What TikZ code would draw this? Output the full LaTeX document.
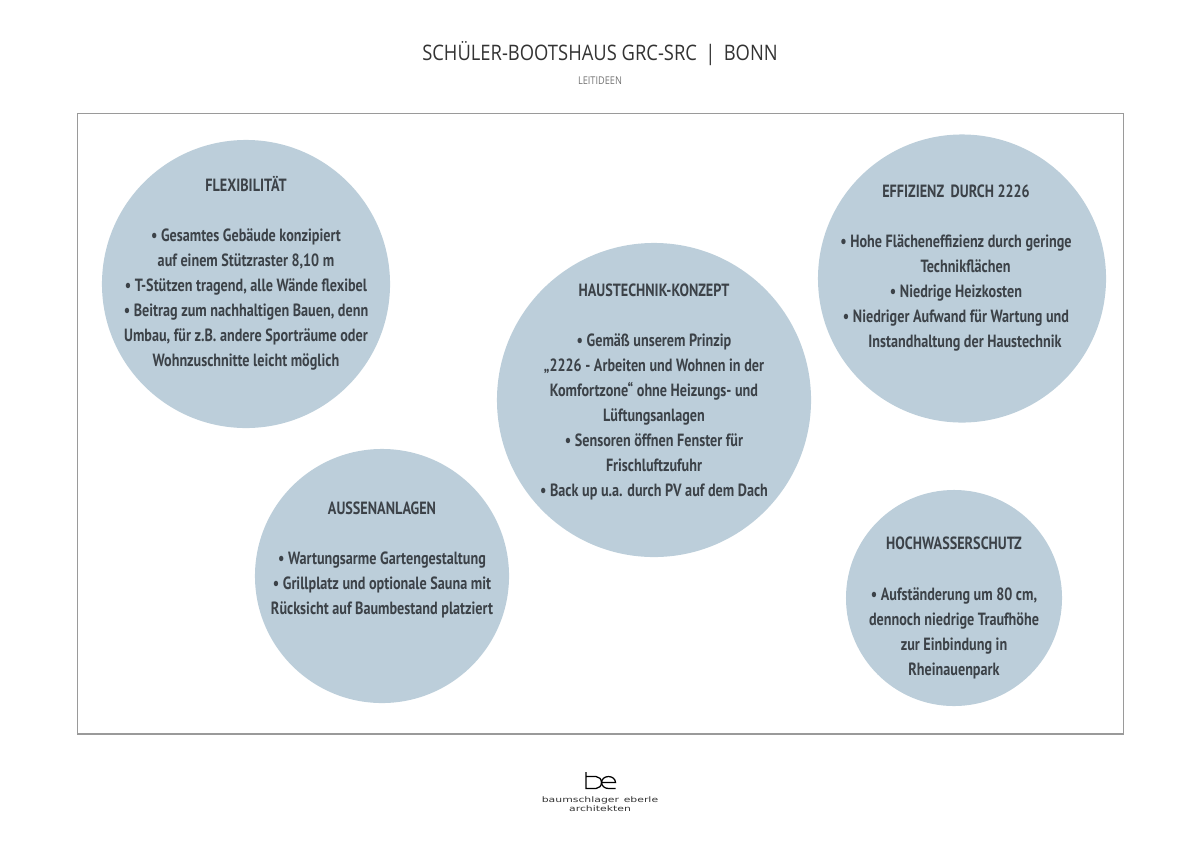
\documentclass[tikz,border=0pt]{standalone}
\usepackage{fontspec}
\setmainfont[FakeStretch=0.86]{Open Sans}
\newfontfamily\circlefont[FakeStretch=0.80,BoldFont={PT Sans Bold}]{PT Sans}
\newfontfamily\logofont[FakeStretch=1.43]{DejaVu Sans}
\usetikzlibrary{positioning}
\definecolor{CCircle}{HTML}{BCCEDA}
\definecolor{CText}{HTML}{3C4248}
\definecolor{CTitle}{HTML}{333333}
\definecolor{CFrame}{HTML}{9A9A9A}
\tikzset{
    ideacircle/.style={
        circle,
        fill=CCircle,
        inner sep=0pt
    },
    ideatext/.style={
        align=center,
        inner sep=0pt,
        text=CText,
        font=\circlefont\bfseries\fontsize{12.6}{17.8}\selectfont
    }
}

\begin{document}
\begin{tikzpicture}[x=0.025cm, y=-0.025cm]
    \useasboundingbox (0,0) rectangle (1200,848);

    % Heading
    \node[text=CTitle, font=\fontsize{15.2}{17}\selectfont, inner sep=0pt] (title) at (600,54) {SCHÜLER-BOOTSHAUS GRC-SRC \,|\, BONN};
    \node[text=black!55, font=\fontsize{7.6}{8}\selectfont, inner sep=0pt] (subtitle) at (600,81) {LEITIDEEN};

    % Frame
    \draw[CFrame, line width=0.8pt] (77.5,113.5) rectangle (1123.5,734);

    % Circles
    \node[ideacircle, minimum size=7.2cm] (flex) at (246,284) {};
    \node[ideacircle, minimum size=7.2cm] (effizienz) at (962,278.5) {};
    \node[ideacircle, minimum size=7.85cm] (haustechnik) at (654,400) {};
    \node[ideacircle, minimum size=6.35cm] (aussen) at (382,576) {};
    \node[ideacircle, minimum size=5.4cm] (hochwasser) at (954,598) {};

    % Texts
    \node[ideatext] (flextext) at (246,273.5) {FLEXIBILITÄT\\[17.8pt]
        • Gesamtes Gebäude konzipiert\\
        auf einem Stützraster 8,10 m\\
        • T-Stützen tragend, alle Wände flexibel\\
        • Beitrag zum nachhaltigen Bauen, denn\\
        Umbau, für z.B. andere Sporträume oder\\
        Wohnzuschnitte leicht möglich};
    \node[ideatext] (effizienztext) at (956,268) {EFFIZIENZ\, DURCH 2226\\[17.8pt]
        • Hohe Flächeneffizienz durch geringe\\
        \hspace*{4.75mm}Technikflächen\\
        • Niedrige Heizkosten\\
        • Niedriger Aufwand für Wartung und\\
        \hspace*{4.5mm}Instandhaltung der Haustechnik};
    \node[ideatext] (haustechniktext) at (654,392) {HAUSTECHNIK-KONZEPT\\[17.8pt]
        • Gemäß unserem Prinzip\\
        „2226 - Arbeiten und Wohnen in der\\
        Komfortzone“ ohne Heizungs- und\\
        Lüftungsanlagen\\
        • Sensoren öffnen Fenster für\\
        Frischluftzufuhr\\
        • Back up u.a. durch PV auf dem Dach};
    \node[ideatext] (aussentext) at (382,560) {AUSSENANLAGEN\\[17.8pt]
        • Wartungsarme Gartengestaltung\\
        • Grillplatz und optionale Sauna mit\\
        Rücksicht auf Baumbestand platziert};
    \node[ideatext] (hochwassertext) at (954,608) {HOCHWASSERSCHUTZ\\[17.8pt]
        • Aufständerung um 80 cm,\\
        dennoch niedrige Traufhöhe\\
        zur Einbindung in\\
        Rheinauenpark};

    % Logo
    \draw[black, line width=0.9pt] (586,772) -- (586,788.5) -- (596,788.5) arc (90:-90:5.5 and 6) -- (586,776.5);
    \draw[black, line width=0.9pt] (601,782.5) -- (615.5,782.5) arc (0:-180:7 and 6) arc (-180:-270:7 and 6) -- (615.5,788.5);
    \node[font=\logofont\fontsize{5.4}{6.6}\selectfont, align=center, inner sep=0pt, text=black!80] (logotext) at (600,804) {baumschlager\, eberle\\architekten};
\end{tikzpicture}
\end{document}
